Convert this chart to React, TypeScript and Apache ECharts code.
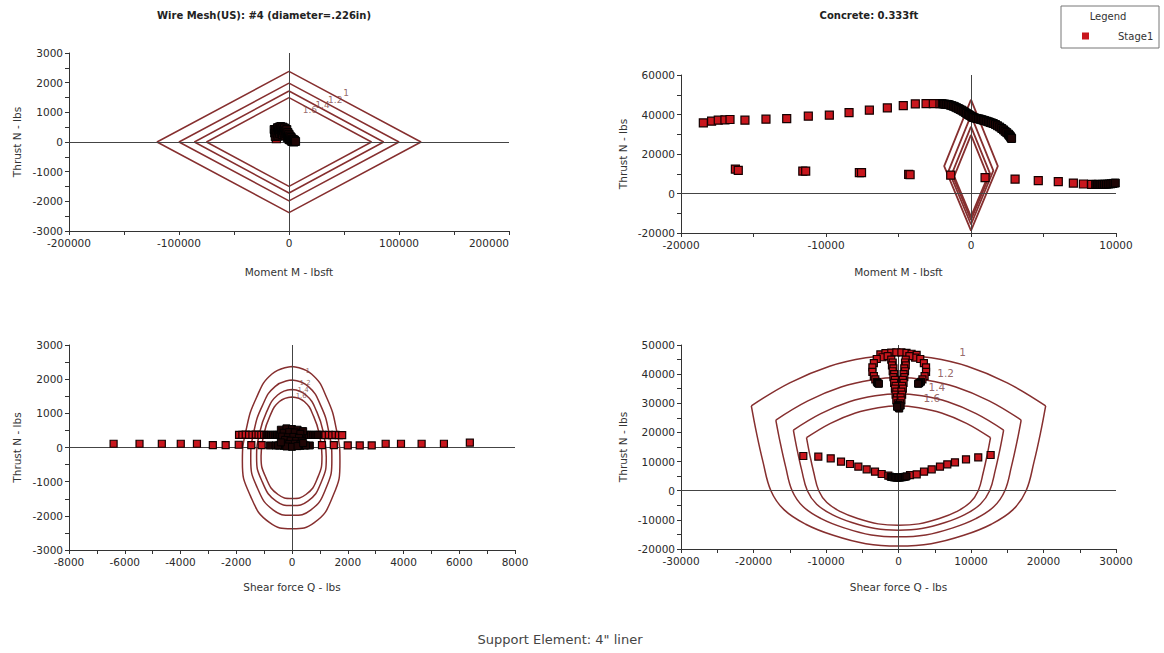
import React, { useEffect, useRef } from 'react';
import * as echarts from 'echarts';

const FONT = '"DejaVu Sans", Verdana, sans-serif';
const ENV_COLOR = '#862f2f';
const LABEL_COLOR = '#7a4444';
const STAGE = 'Stage1';

// Titles / texts
const titleWire = 'Wire Mesh(US): #4 (diameter=.226in)';
const titleConcrete = 'Concrete: 0.333ft';
const footerText = 'Support Element: 4" liner';
const axisMoment = 'Moment M - lbsft';
const axisShear = 'Shear force Q - lbs';
const axisThrust = 'Thrust N - lbs';
const factorLabels = ['1', '1.2', '1.4', '1.6'];

// ---------- Panel 1: wire mesh, moment vs thrust ----------
const wmEnv1 = [[0, 2380], [120000, 0], [0, -2380], [-120000, 0], [0, 2380]];
const wmEnv12 = [[0, 1985], [100000, 0], [0, -1985], [-100000, 0], [0, 1985]];
const wmEnv14 = [[0, 1720], [86000, 0], [0, -1720], [-86000, 0], [0, 1720]];
const wmEnv16 = [[0, 1495], [75000, 0], [0, -1495], [-75000, 0], [0, 1495]];
const wmLabelPos = [[52000, 1650], [42000, 1410], [30500, 1250], [19000, 1090]];
const wmStage = [[-11500, 110]];
const wmStageDense = [
  [-13500, 420], [-13000, 300], [-12500, 180], [-12000, 420], [-11000, 300],
  [-10500, 480], [-10000, 200], [-9500, 380], [-9000, 500], [-8500, 280], [-8000, 420],
  [-7500, 520], [-7000, 330], [-6500, 450], [-6000, 250], [-5500, 500], [-5000, 380],
  [-4500, 300], [-4000, 470], [-3500, 200], [-3000, 380], [-2500, 280], [-2000, 420],
  [-1500, 150], [-1000, 320], [-500, 200], [0, 260], [0, 80], [500, 130], [1000, 200],
  [1500, 60], [2000, 150], [2500, 20], [3000, 100], [3500, 40], [4000, 80], [4500, 0],
  [5000, 60], [6000, 20],
];

// ---------- Panel 2: concrete, moment vs thrust ----------
const ccEnv1 = [[0, 47500], [1850, 13900], [0, -18800], [-1850, 13900], [0, 47500]];
const ccEnv12 = [[0, 39600], [1540, 11600], [0, -15700], [-1540, 11600], [0, 39600]];
const ccEnv14 = [[0, 33900], [1320, 9900], [0, -13400], [-1320, 9900], [0, 33900]];
const ccEnv16 = [[0, 29700], [1160, 8700], [0, -11750], [-1160, 8700], [0, 29700]];
const ccStage = [
  [-18460, 35760], [-17890, 36610], [-17430, 37120], [-16970, 37300], [-16620, 37470],
  [-15590, 37120], [-14140, 37620], [-12710, 37950], [-11220, 39140], [-9770, 39640],
  [-8410, 41000], [-7010, 42170], [-5770, 43340], [-4670, 44530], [-3840, 45360],
  [-3100, 45530], [-2600, 45530], [-2140, 45530],
  [-16250, 12370], [-16050, 11700], [-11600, 11360], [-11400, 11360], [-7700, 10520],
  [-7550, 10520], [-4300, 9680], [-4200, 9500], [-1400, 9340], [970, 7990], [3040, 7320],
  [4640, 6480], [6020, 5980], [7060, 5300], [7750, 4800], [8320, 4630],
];
const ccStageDense = [
  [-2000, 45400], [-1900, 45330], [-1800, 45250], [-1680, 45150], [-1560, 45030], [-1450, 44780],
  [-1330, 44500], [-1210, 44180], [-1100, 43850], [-990, 43430], [-870, 43000], [-760, 42600],
  [-640, 42170], [-530, 41650], [-410, 41100], [-300, 40550], [-180, 40000], [-90, 39600],
  [0, 39200], [80, 38830], [160, 38470], [280, 38230], [400, 38000], [520, 37800], [630, 37600],
  [740, 37360], [850, 37120], [960, 36860], [1080, 36600], [1200, 36300], [1310, 36000],
  [1420, 35730], [1540, 35430], [1690, 34900], [1830, 34300], [1980, 33650], [2120, 32910],
  [2240, 32220], [2350, 31500], [2470, 30800], [2580, 30050], [2640, 29500], [2700, 29000],
  [2750, 28400], [2800, 27860],
  [8600, 4600], [8750, 4650], [8900, 4600], [9050, 4650], [9200, 4700], [9350, 4700],
  [9500, 4800], [9650, 4900], [9800, 5100], [9950, 5300],
];

// ---------- Panel 3: wire mesh, shear vs thrust ----------
const wqEnv1 = [[0, 2370], [700, 2150], [1250, 1450], [1600, 500], [1720, -400], [1480, -1400], [800, -2200], [0, -2380], [-800, -2200], [-1500, -1400], [-1780, -400], [-1650, 500], [-1280, 1450], [-720, 2150], [0, 2370]];
const wqEnv12 = [[0, 1975], [580, 1790], [1040, 1210], [1330, 420], [1430, -330], [1230, -1170], [670, -1830], [0, -1985], [-670, -1830], [-1250, -1170], [-1480, -330], [-1380, 420], [-1070, 1210], [-600, 1790], [0, 1975]];
const wqEnv14 = [[0, 1695], [500, 1535], [895, 1035], [1145, 355], [1230, -285], [1055, -1000], [570, -1570], [0, -1700], [-570, -1570], [-1070, -1000], [-1270, -285], [-1180, 355], [-915, 1035], [-515, 1535], [0, 1695]];
const wqEnv16 = [[0, 1480], [440, 1345], [780, 905], [1000, 315], [1075, -250], [925, -875], [500, -1375], [0, -1490], [-500, -1375], [-940, -875], [-1110, -250], [-1030, 315], [-800, 905], [-450, 1345], [0, 1480]];
const wqLabelPos = [[560, 2250], [470, 1900], [400, 1690], [330, 1520]];
const wqStage = [
  [-6400, 110], [-5470, 110], [-4670, 110], [-3990, 110], [-3410, 110], [-2840, 70],
  [-2380, 70], [-1910, 80], [-1460, 70], [-1090, 70], [1075, 70],
  [1500, 70], [2000, 60], [2430, 60], [2860, 60], [3360, 110], [3910, 110], [4650, 110],
  [5450, 110], [6380, 140],
  [-1900, 370], [-1780, 370], [-1660, 375], [-1540, 370], [-1420, 370], [-1300, 375],
  [-1200, 370], [-1100, 370], [-1000, 370],
  [1000, 370], [1100, 370], [1200, 365], [1320, 370], [1440, 365], [1560, 370], [1680, 360], [1800, 365],
];
const wqStageDense = [
  [-800, 60], [-590, 60], [-450, 60], [-300, 50], [-150, 50], [0, 50], [150, 50], [300, 50],
  [450, 60], [640, 60],
  [-920, 370], [-840, 370], [-760, 370], [-680, 370], [-600, 370], [-540, 370], [-480, 370],
  [-420, 370], [-360, 370], [-300, 370], [-240, 370], [-180, 370], [-120, 370], [-60, 370],
  [0, 370], [60, 370], [120, 370], [180, 370], [240, 370], [300, 370], [360, 370], [420, 370],
  [480, 370], [540, 370], [600, 370], [680, 370], [760, 370], [840, 370], [920, 370],
  [-400, 520], [-200, 560], [0, 540], [200, 520], [400, 480], [-300, 430], [-100, 450],
  [100, 440], [300, 400], [-350, 320], [-150, 300], [50, 310], [250, 280], [-250, 220],
  [-50, 200], [150, 190], [350, 180], [-300, 120], [-100, 100], [100, 110], [300, 90],
  [-200, 30], [0, 20], [200, 40], [-500, 60], [500, 60], [-400, 150], [400, 130],
];

// ---------- Panel 4: concrete, shear vs thrust (upper arc + lower bowl) ----------
const cqArc1 = [[-20300, 29100], [-15000, 37000], [-9500, 42700], [-4500, 45600], [0, 46600], [4500, 45600], [9500, 42700], [15000, 37000], [20300, 29100]];
const cqBowl1 = [[20300, 29100], [19600, 20000], [18700, 10000], [17600, 0], [15800, -6500], [12800, -11500], [9000, -15300], [4500, -18200], [0, -19000], [-4500, -18200], [-9000, -15300], [-12800, -11500], [-15800, -6500], [-17600, 0], [-18700, 10000], [-19600, 20000], [-20300, 29100]];
const cqArc12 = [[-16920, 24250], [-12500, 30830], [-7920, 35580], [-3750, 38000], [0, 38830], [3750, 38000], [7920, 35580], [12500, 30830], [16920, 24250]];
const cqBowl12 = [[16920, 24250], [16330, 16670], [15580, 8330], [14670, 0], [13170, -5420], [10670, -9580], [7500, -12750], [3750, -15170], [0, -15830], [-3750, -15170], [-7500, -12750], [-10670, -9580], [-13170, -5420], [-14670, 0], [-15580, 8330], [-16330, 16670], [-16920, 24250]];
const cqArc14 = [[-14500, 20790], [-10710, 26430], [-6790, 30500], [-3210, 32570], [0, 33290], [3210, 32570], [6790, 30500], [10710, 26430], [14500, 20790]];
const cqBowl14 = [[14500, 20790], [14000, 14290], [13360, 7140], [12570, 0], [11290, -4640], [9140, -8210], [6430, -10930], [3210, -13000], [0, -13570], [-3210, -13000], [-6430, -10930], [-9140, -8210], [-11290, -4640], [-12570, 0], [-13360, 7140], [-14000, 14290], [-14500, 20790]];
const cqArc16 = [[-12690, 18190], [-9380, 23130], [-5940, 26690], [-2810, 28500], [0, 29130], [2810, 28500], [5940, 26690], [9380, 23130], [12690, 18190]];
const cqBowl16 = [[12690, 18190], [12250, 12500], [11690, 6250], [11000, 0], [9880, -4060], [8000, -7190], [5630, -9560], [2810, -11380], [0, -11880], [-2810, -11380], [-5630, -9560], [-8000, -7190], [-9880, -4060], [-11000, 0], [-11690, 6250], [-12250, 12500], [-12690, 18190]];
const cqLabelPos = [[8850, 47700], [6500, 40300], [5300, 35500], [4600, 31700]];
const cqStage = [
  [-13130, 11920], [-11060, 11680], [-9350, 11130], [-7930, 9960], [-6690, 9170], [-5540, 8250],
  [-4390, 7350], [-3240, 6530], [-2320, 5740], [-1400, 5150],
  [1590, 5380], [2510, 5630], [3520, 6530], [4580, 7350],
  [5720, 8250], [6730, 9050], [7790, 9740], [9310, 10770], [11000, 11450], [12710, 12250],
  [-2500, 46800], [-1800, 47200], [-1000, 47400], [-300, 47500], [400, 47500], [1100, 47300],
  [1800, 47000], [2500, 46600], [-2200, 45800], [2300, 45700], [-1500, 46200], [1500, 46200],
  [-3000, 45200], [-3400, 43800], [-3600, 42300], [-3600, 40800], [-3400, 39300], [-3200, 38200],
  [3000, 45200], [3500, 43800], [3800, 42300], [3800, 40800], [3600, 39300], [3300, 38200],
  [-1000, 45000], [-800, 44000], [-900, 43000], [-700, 42000], [-800, 41000], [-600, 40000],
  [-700, 39000], [-500, 38000], [-600, 37000], [-400, 36000], [-500, 35000], [-300, 34000],
  [-400, 33000], [-200, 32000], [-300, 31000], [-100, 30000],
  [1000, 45000], [900, 44000], [1000, 43000], [800, 42000],
  [900, 41000], [700, 40000], [800, 39000], [600, 38000], [700, 37000], [500, 36000],
  [600, 35000], [400, 34000], [500, 33000], [300, 32000], [400, 31000], [200, 30000],
];
const cqStageDense = [
  [-1100, 4800], [-900, 4700], [-700, 4600], [-500, 4550], [-300, 4500], [-100, 4500],
  [100, 4500], [300, 4550], [500, 4600], [700, 4700], [900, 4800], [1100, 4900],
  [-3000, 37400], [-2900, 37000], [-2800, 36800], [-2700, 36700],
  [3100, 37400], [2900, 37000], [2800, 36800], [2700, 36700],
  [0, 29500], [0, 29000], [0, 28500], [100, 28200], [300, 29200], [-200, 28800],
];

const fmt = (v: number) => String(v);
const TICK_FS = 10.5;

function xAxis(gridIndex: number, min: number, max: number, interval: number, name: string, nameGap: number, alignMax?: string) {
  return {
    type: 'value', gridIndex, min, max, interval, name, nameLocation: 'middle', nameGap,
    nameTextStyle: { fontSize: TICK_FS, color: '#333', fontFamily: FONT },
    axisLine: { show: true, onZero: false, lineStyle: { color: '#333', width: 1 } },
    axisTick: { show: true, length: 4, lineStyle: { color: '#333' } },
    minorTick: { show: true, splitNumber: 2, length: 4, lineStyle: { color: '#333' } },
    splitLine: { show: false },
    minorSplitLine: { show: false },
    axisLabel: { fontSize: TICK_FS, color: '#2a2a2a', fontFamily: FONT, margin: 6, formatter: fmt, alignMaxLabel: alignMax },
  };
}

function yAxis(gridIndex: number, min: number, max: number, interval: number, nameGap: number) {
  return {
    type: 'value', gridIndex, min, max, interval, name: axisThrust, nameLocation: 'middle', nameGap,
    nameTextStyle: { fontSize: TICK_FS, color: '#333', fontFamily: FONT },
    axisLine: { show: true, onZero: false, lineStyle: { color: '#333', width: 1 } },
    axisTick: { show: true, length: 4, lineStyle: { color: '#333' } },
    minorTick: { show: true, splitNumber: 2, length: 4, lineStyle: { color: '#333' } },
    splitLine: { show: false },
    minorSplitLine: { show: false },
    axisLabel: { fontSize: TICK_FS, color: '#2a2a2a', fontFamily: FONT, margin: 6, formatter: fmt },
  };
}

const zeroLines = {
  silent: true,
  symbol: ['none', 'none'],
  label: { show: false },
  lineStyle: { color: '#444', width: 1, type: 'solid' },
  emphasis: { disabled: true },
  data: [{ xAxis: 0 }, { yAxis: 0 }],
};

function envSeries(idx: number, data: number[][], smooth: number | boolean, withZero: boolean, width = 1.5) {
  return {
    type: 'line', xAxisIndex: idx, yAxisIndex: idx, data, symbol: 'none', smooth,
    lineStyle: { color: ENV_COLOR, width }, silent: true, z: 2,
    markLine: withZero ? zeroLines : undefined,
  };
}

function labelSeries(idx: number, pos: number[][], fontSize: number) {
  return {
    type: 'scatter', xAxisIndex: idx, yAxisIndex: idx, silent: true, z: 3,
    symbolSize: 1, itemStyle: { color: 'rgba(0,0,0,0)' },
    data: pos.map((p, i) => ({ name: factorLabels[i], value: p })),
    label: { show: true, position: 'inside', formatter: '{b}', color: LABEL_COLOR, fontSize, fontFamily: FONT },
  };
}

function stageSeries(idx: number, data: number[][], size: number, dense = false) {
  return {
    name: STAGE, type: 'scatter', xAxisIndex: idx, yAxisIndex: idx, data, symbol: 'rect',
    symbolSize: size, clip: false, z: dense ? 6 : 5,
    itemStyle: dense
      ? { color: '#1e0505', borderColor: '#000', borderWidth: 1, opacity: 1 }
      : { color: '#c8161d', borderColor: '#140000', borderWidth: 1.2, opacity: 1 },
  };
}

export default function App() {
  const ref = useRef<HTMLDivElement>(null);
  useEffect(() => {
    if (!ref.current) return;
    const chart = echarts.init(ref.current, undefined, { renderer: 'svg' });
    chart.setOption({
      animation: false,
      backgroundColor: '#ffffff',
      textStyle: { fontFamily: FONT },
      grid: [
        { left: 69, top: 53, width: 440, height: 178 },
        { left: 681, top: 75, width: 435, height: 158 },
        { left: 69, top: 345, width: 446, height: 205 },
        { left: 681, top: 345, width: 435, height: 204 },
      ],
      xAxis: [
        xAxis(0, -200000, 200000, 100000, axisMoment, 35, 'right'),
        xAxis(1, -20000, 10000, 10000, axisMoment, 33),
        xAxis(2, -8000, 8000, 2000, axisShear, 31),
        xAxis(3, -30000, 30000, 10000, axisShear, 32),
      ],
      yAxis: [
        yAxis(0, -3000, 3000, 1000, 47),
        yAxis(1, -20000, 60000, 20000, 53),
        yAxis(2, -3000, 3000, 1000, 47),
        yAxis(3, -20000, 50000, 10000, 53),
      ],
      legend: {
        data: [{ name: STAGE, icon: 'rect' }],
        left: 1077, top: 26, itemWidth: 7, itemHeight: 7, selectedMode: false,
        itemStyle: { color: '#c8161d', borderWidth: 0 },
        textStyle: { fontSize: 10, color: '#333', fontFamily: FONT, padding: [0, 0, 0, 24] },
      },
      graphic: [
        { type: 'rect', shape: { x: 1061, y: 6, width: 98, height: 42 }, style: { fill: '#fff', stroke: '#777', lineWidth: 1 }, z: -1 },
        { type: 'text', x: 1108, y: 16, style: { text: 'Legend', fontSize: 10, fill: '#333', fontFamily: FONT, align: 'center', verticalAlign: 'middle' } },
        { type: 'text', x: 264, y: 15, style: { text: titleWire, fontSize: 10, fontWeight: 'bold', fill: '#222', fontFamily: FONT, align: 'center', verticalAlign: 'middle' } },
        { type: 'text', x: 869, y: 15, style: { text: titleConcrete, fontSize: 10, fontWeight: 'bold', fill: '#222', fontFamily: FONT, align: 'center', verticalAlign: 'middle' } },
        { type: 'text', x: 560, y: 639, style: { text: footerText, fontSize: 13, fill: '#444', fontFamily: FONT, align: 'center', verticalAlign: 'middle' } },
      ],
      series: [
        envSeries(0, wmEnv1, false, true),
        envSeries(0, wmEnv12, false, false),
        envSeries(0, wmEnv14, false, false),
        envSeries(0, wmEnv16, false, false),
        labelSeries(0, wmLabelPos, 9),
        stageSeries(0, wmStage, 8),
        stageSeries(0, wmStageDense, 8, true),

        envSeries(1, ccEnv1, false, true, 1.8),
        envSeries(1, ccEnv12, false, false, 1.8),
        envSeries(1, ccEnv14, false, false, 1.8),
        envSeries(1, ccEnv16, false, false, 1.8),
        stageSeries(1, ccStage, 8),
        stageSeries(1, ccStageDense, 8, true),

        envSeries(2, wqEnv1, 0.5, true),
        envSeries(2, wqEnv12, 0.5, false),
        envSeries(2, wqEnv14, 0.5, false),
        envSeries(2, wqEnv16, 0.5, false),
        labelSeries(2, wqLabelPos, 7),
        stageSeries(2, wqStage, 7),
        stageSeries(2, wqStageDense, 7, true),

        envSeries(3, cqArc1, 0.4, true),
        envSeries(3, cqBowl1, 0.4, false),
        envSeries(3, cqArc12, 0.4, false),
        envSeries(3, cqBowl12, 0.4, false),
        envSeries(3, cqArc14, 0.4, false),
        envSeries(3, cqBowl14, 0.4, false),
        envSeries(3, cqArc16, 0.4, false),
        envSeries(3, cqBowl16, 0.4, false),
        labelSeries(3, cqLabelPos, 10.5),
        stageSeries(3, cqStage, 7),
        stageSeries(3, cqStageDense, 7, true),
      ],
    });
    return () => chart.dispose();
  }, []);
  return <div ref={ref} style={{ position: 'fixed', left: 0, top: 0, width: 1164, height: 653, background: '#fff' }} />;
}
